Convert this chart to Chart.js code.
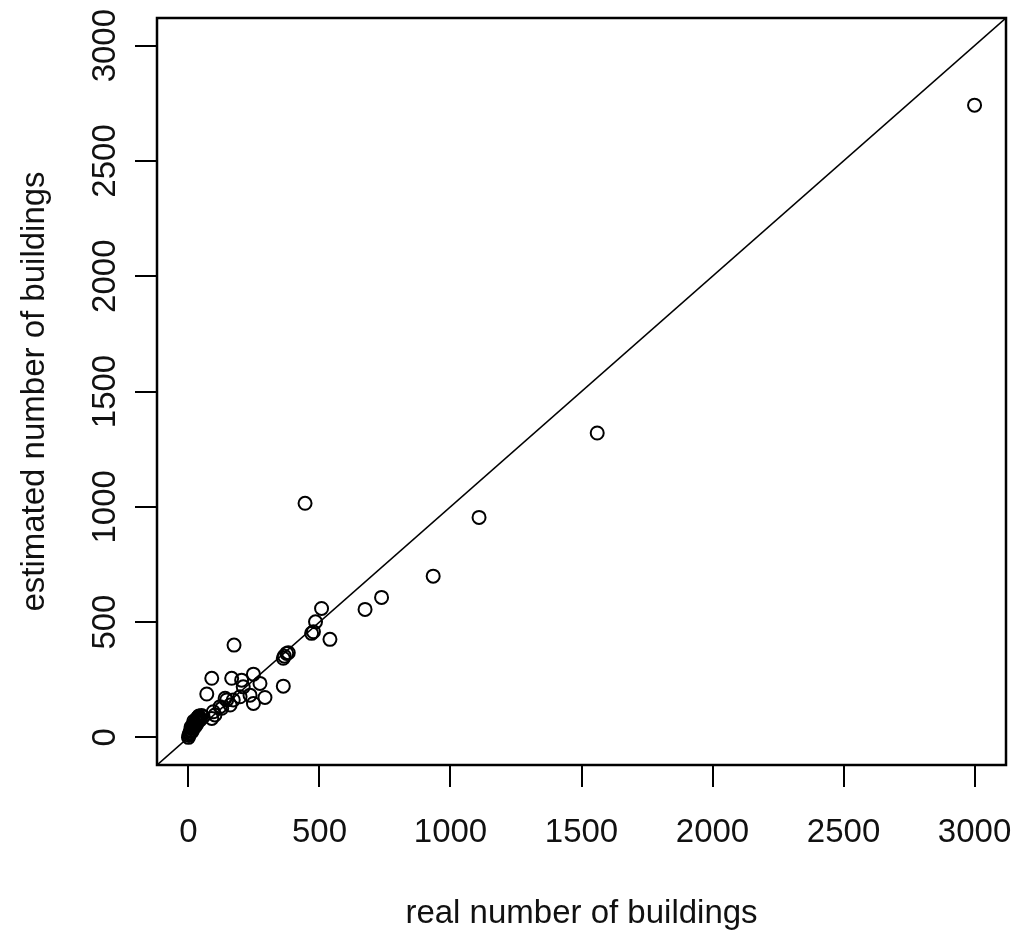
<!DOCTYPE html>
<html>
<head>
<meta charset="utf-8">
<script src="https://cdn.jsdelivr.net/npm/chart.js@4.4.0/dist/chart.umd.min.js"></script>
<style>
  html, body { margin: 0; padding: 0; background: #fff; }
  canvas { display: block; }
</style>
</head>
<body>
<canvas id="scatter" width="1024" height="939"></canvas>
<script>
// real vs estimated building counts
const realCount = [
  3000, 1560, 1109, 934, 737, 674, 445, 540, 508, 485, 470, 477,
  375, 362, 381, 366, 362, 174,
  89, 165, 248, 203, 273, 235, 292, 248, 70, 140, 159, 121, 171, 209, 197, 146, 127,
  101, 89, 95, 56, 44,
  0, 2, 4, 6, 8, 10, 12, 15, 18, 20, 22, 25, 28, 30, 32, 35, 38, 40, 14, 24, 30, 36, 10, 20, 45, 50
];
const estCount = [
  2742, 1320, 954, 699, 607, 555, 1015, 425, 559, 501, 451, 458,
  364, 343, 367, 352, 222, 400,
  256, 256, 274, 248, 234, 183, 173, 147, 188, 169, 140, 133, 162, 219, 176, 162, 126,
  97, 82, 111, 89, 75,
  0, 8, 15, 20, 28, 30, 38, 42, 48, 55, 60, 62, 70, 75, 80, 85, 88, 92, 25, 45, 55, 68, 45, 70, 80, 95
];
const axisTicks = [0, 500, 1000, 1500, 2000, 2500, 3000];
const axisMin = -120;
const axisMax = 3120;
const xTitle = 'real number of buildings';
const yTitle = 'estimated number of buildings';

const points = realCount.map((v, i) => ({ x: v, y: estCount[i] }));
const diagonal = [{ x: axisMin, y: axisMin }, { x: axisMax, y: axisMax }];

const fontFamily = '"Liberation Sans", Arial, sans-serif';

const boxPlugin = {
  id: 'box',
  afterDraw(chart) {
    const a = chart.chartArea;
    const ctx = chart.ctx;
    ctx.save();
    ctx.strokeStyle = '#000';
    ctx.lineWidth = 2.5;
    ctx.strokeRect(a.left, a.top, a.right - a.left, a.bottom - a.top);
    ctx.restore();
  }
};

const setTicks = scale => {
  scale.ticks = axisTicks.map(v => ({ value: v }));
};
const plainLabel = v => String(v);

new Chart(document.getElementById('scatter'), {
  type: 'scatter',
  data: {
    datasets: [{
      data: points,
      pointStyle: 'circle',
      pointRadius: 6.5,
      pointHoverRadius: 6.5,
      pointBorderWidth: 2,
      pointBorderColor: '#000',
      pointBackgroundColor: 'rgba(0,0,0,0)'
    },
    {
      type: 'line',
      data: diagonal,
      borderColor: '#000',
      borderWidth: 1.6,
      pointRadius: 0,
      fill: false
    }]
  },
  plugins: [boxPlugin],
  options: {
    responsive: false,
    animation: false,
    devicePixelRatio: 1,
    layout: { padding: { top: 18, right: 18, left: 0, bottom: 0 } },
    plugins: { legend: { display: false }, tooltip: { enabled: false } },
    scales: {
      x: {
        type: 'linear',
        min: axisMin,
        max: axisMax,
        afterBuildTicks: setTicks,
        afterFit: scale => {
          scale.height = 174;
          scale.paddingLeft = 0;
          scale.paddingRight = 0;
        },
        border: { display: false },
        grid: { drawOnChartArea: false, drawTicks: true, tickLength: 22, color: '#000', lineWidth: 2 },
        ticks: { color: '#111', padding: 26, maxRotation: 0, callback: plainLabel, font: { family: fontFamily, size: 33 } },
        title: { display: true, text: xTitle, color: '#111', padding: { top: 0, bottom: 5 }, font: { family: fontFamily, size: 33 } }
      },
      y: {
        type: 'linear',
        min: axisMin,
        max: axisMax,
        afterBuildTicks: setTicks,
        afterFit: scale => {
          scale.width = 157;
          scale.paddingTop = 0;
          scale.paddingBottom = 0;
        },
        border: { display: false },
        grid: { drawOnChartArea: false, drawTicks: true, tickLength: 22, color: '#000', lineWidth: 2 },
        ticks: { color: '#111', padding: -8, minRotation: 90, maxRotation: 90, crossAlign: 'center', callback: plainLabel, font: { family: fontFamily, size: 33 } },
        title: { display: true, text: yTitle, color: '#111', padding: { top: 15, bottom: 0 }, font: { family: fontFamily, size: 33 } }
      }
    }
  }
});
</script>
</body>
</html>
